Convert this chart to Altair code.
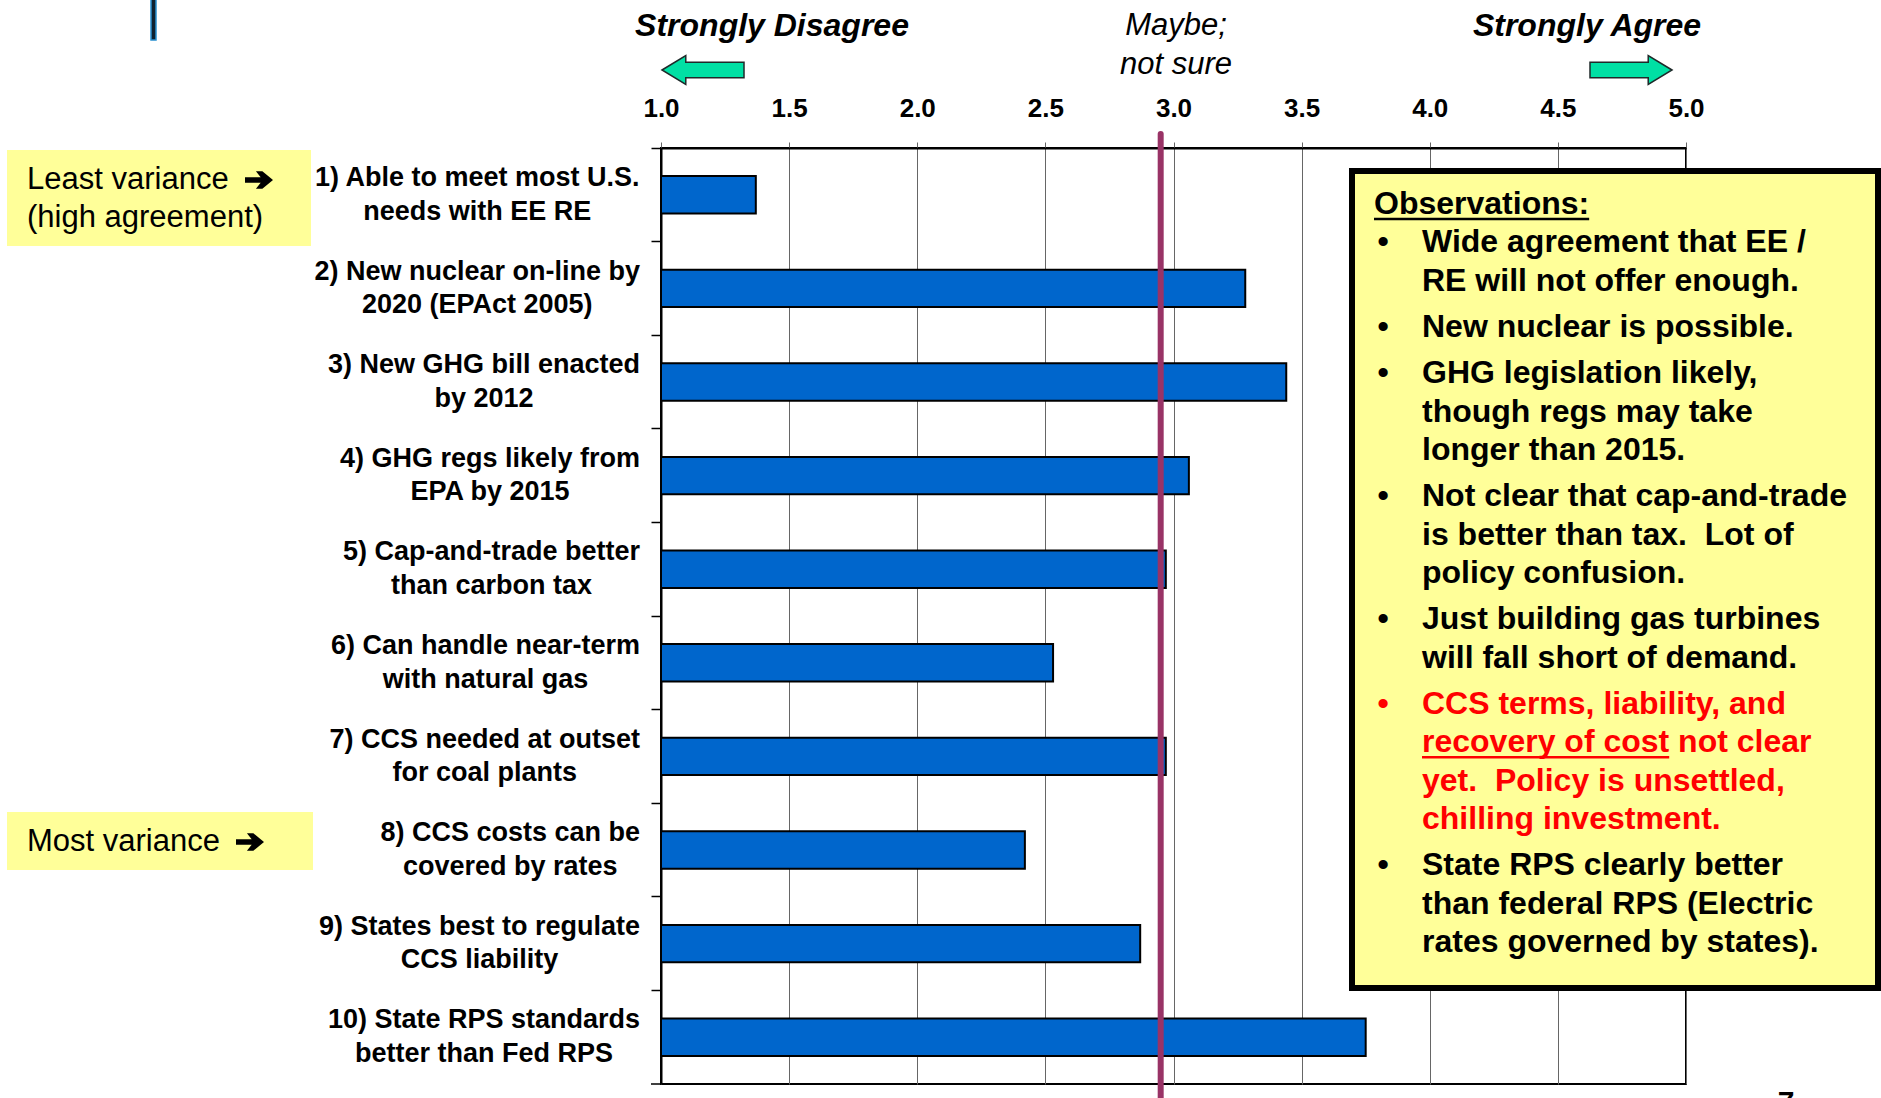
import altair as alt
import pandas as pd

FONT = "Liberation Sans, Arial, Helvetica, sans-serif"

# ---------------------------------------------------------------- data
statement_first_lines = [
    "1) Able to meet most U.S.",
    "2) New nuclear on-line by",
    "3) New GHG bill enacted",
    "4) GHG regs likely from",
    "5) Cap-and-trade better",
    "6) Can handle near-term",
    "7) CCS needed at outset",
    "8) CCS costs can be",
    "9) States best to regulate",
    "10) State RPS standards",
]
statement_second_lines = [
    "needs with EE RE",
    "2020 (EPAct 2005)",
    "by 2012",
    "EPA by 2015",
    "than carbon tax",
    "with natural gas",
    "for coal plants",
    "covered by rates",
    "CCS liability",
    "better than Fed RPS",
]
mean_scores = [1.37, 3.28, 3.44, 3.06, 2.97, 2.53, 2.97, 2.42, 2.87, 3.75]
overall_mean = [2.95]
scale_ticks = [1.0, 1.5, 2.0, 2.5, 3.0, 3.5, 4.0, 4.5, 5.0]
scale_ends = ["Strongly Disagree", "Strongly Agree"]
scale_middle = ["Maybe;", "not sure"]
variance_notes = ["Least variance", "(high agreement)", "Most variance"]
observations_title = "Observations:"
observation_bullets = [
    ["Wide agreement that EE /", "RE will not offer enough."],
    ["New nuclear is possible."],
    ["GHG legislation likely,", "though regs may take", "longer than 2015."],
    ["Not clear that cap-and-trade", "is better than tax.\u00a0 Lot of", "policy confusion."],
    ["Just building gas turbines", "will fall short of demand."],
    ["CCS terms, liability, and", "recovery of cost not clear",
     "yet.\u00a0 Policy is unsettled,", "chilling investment."],
    ["State RPS clearly better", "than federal RPS (Electric", "rates governed by states)."],
]
highlighted_bullet = 5
underlined_phrase = "recovery of cost"
page_number = "7"

# ---------------------------------------------------------------- layout
W, H = 1025, 936
PAD = {"left": 661, "top": 148, "right": 195, "bottom": 14}
LABEL_SIZE = 27
LABEL_LINE = 33.6
LABEL_GAP = 21
OBS_SIZE = 32

# advance widths of a bold sans (per 1000 em), used to centre two-line labels
_BOLD = {" ": 278, "(": 333, ")": 333, ".": 278, ",": 278, "-": 333, "/": 278,
         ":": 333, ";": 333}
_BOLD.update({d: 556 for d in "0123456789"})
_BOLD.update(dict(zip("ABCDEFGHIJKLMNOPQRSTUVWXYZ",
                      [722, 722, 722, 722, 667, 611, 778, 722, 278, 556, 722, 611, 833,
                       722, 778, 667, 778, 722, 667, 611, 722, 667, 944, 667, 667, 611])))
_BOLD.update(dict(zip("abcdefghijklmnopqrstuvwxyz",
                      [556, 611, 556, 611, 556, 333, 611, 611, 278, 278, 556, 278, 889,
                       611, 611, 611, 611, 389, 556, 333, 611, 556, 778, 556, 556, 500])))


def bold_width(s, size):
    return sum(_BOLD.get(c, 556) for c in s) * size / 1000.0


def to_score(px):
    return 1.0 + px * 4.0 / W


labels = [f"{a}\n{b}" for a, b in zip(statement_first_lines, statement_second_lines)]
table = pd.DataFrame({
    "statement": labels,
    "score": mean_scores,
    "label_x": [to_score(-LABEL_GAP - bold_width(a, LABEL_SIZE) / 2)
                for a in statement_first_lines],
})

y_enc = alt.Y(
    "statement:N", sort=labels, title=None,
    scale=alt.Scale(padding=0),
    axis=alt.Axis(labels=False, grid=False, domainColor="black", domainWidth=2,
                  tickColor="black", tickSize=10, tickWidth=1.5, bandPosition=0),
)
x_scale = alt.Scale(domain=[1, 5], nice=False, zero=False)

bars = alt.Chart(table).mark_bar(
    height={"band": 0.4}, fill="#0066CC", stroke="black", strokeWidth=2
).encode(
    y=y_enc,
    x=alt.X("score:Q", scale=x_scale, title=None,
            axis=alt.Axis(orient="top", values=scale_ticks, format=".1f", grid=True,
                          gridColor="#666666", gridWidth=1, domainColor="black",
                          domainWidth=2, tickColor="#666666", tickSize=6,
                          labelFont=FONT, labelFontSize=26, labelFontWeight="bold",
                          labelColor="black", labelPadding=21, labelFlush=False)),
    x2=alt.datum(1),
)

# two-line statement labels, centred on the band
statement_text = alt.Chart(table).mark_text(
    align="center", baseline="middle", lineBreak="\n", lineHeight=LABEL_LINE,
    dy=-LABEL_LINE / 2, font=FONT, fontSize=LABEL_SIZE, fontWeight="bold", color="black",
).encode(
    y=alt.Y("statement:N", sort=labels, title=None),
    x=alt.X("label_x:Q", scale=x_scale, title=None),
    text="statement:N",
)

mean_line = alt.Chart(pd.DataFrame({"m": overall_mean})).mark_rule(
    color="#993366", strokeWidth=6, strokeCap="round"
).encode(x=alt.X("m:Q", scale=x_scale, title=None), y=alt.value(-14), y2=alt.value(H + 30))

main = alt.layer(bars, statement_text, mean_line)

# ---------------------------------------------------------------- annotations (pixel space)
def pix(df):
    return alt.Chart(df)


def xy():
    return dict(x=alt.X("px:Q", scale=None, axis=None),
                y=alt.Y("py:Q", scale=None, axis=None))


def rects(df, **mark):
    return pix(df).mark_rect(**mark).encode(
        x=alt.X("x:Q", scale=None, axis=None), x2="x2:Q",
        y=alt.Y("y:Q", scale=None, axis=None), y2="y2:Q")


def rules(df, **mark):
    return pix(df).mark_rule(**mark).encode(
        x=alt.X("x:Q", scale=None, axis=None), x2="x2:Q",
        y=alt.Y("y:Q", scale=None, axis=None))


note_boxes = rects(pd.DataFrame({"x": [-654, -654], "x2": [-350, -348],
                                 "y": [2, 664], "y2": [98, 722]}),
                   fill="#FFFF99", stroke=None)
note_text = pix(pd.DataFrame({"txt": variance_notes, "px": [-634, -634, -634],
                              "py": [32, 70, 694]})).mark_text(
    align="left", baseline="middle", font=FONT, fontSize=31, color="black"
).encode(text="txt:N", **xy())

# heavy black pointer arrows after the variance notes
HEAVY_ARROW = ("M -1 -0.2 L 0.12 -0.2 L -0.22 -0.62 L 0.24 -0.62 L 1 0 "
               "L 0.24 0.62 L -0.22 0.62 L 0.12 0.2 L -1 0.2 Z")
note_arrows = pix(pd.DataFrame({"px": [-402, -411], "py": [32, 694]})).mark_point(
    shape=HEAVY_ARROW, size=28 * 28, filled=True, fill="black", stroke=None, opacity=1
).encode(**xy())

corner_bar = rects(pd.DataFrame({"x": [-510], "x2": [-505], "y": [-150], "y2": [-108]}),
                   fill="#10212e", stroke="#2a90d0", strokeWidth=1.5)

ends_text = pix(pd.DataFrame({"txt": scale_ends, "px": [111, 926], "py": [-122, -122]})).mark_text(
    align="center", baseline="middle", font=FONT, fontSize=32, fontWeight="bold",
    fontStyle="italic", color="black"
).encode(text="txt:N", **xy())
middle_text = pix(pd.DataFrame({"txt": scale_middle, "px": [515, 515], "py": [-122, -83]})).mark_text(
    align="center", baseline="middle", font=FONT, fontSize=31, fontStyle="italic", color="black"
).encode(text="txt:N", **xy())

LEFT_ARROW = "M -1 0 L -0.42 -0.354 L -0.42 -0.19 L 1 -0.19 L 1 0.19 L -0.42 0.19 L -0.42 0.354 Z"
RIGHT_ARROW = "M 1 0 L 0.42 -0.354 L 0.42 -0.19 L -1 -0.19 L -1 0.19 L 0.42 0.19 L 0.42 0.354 Z"
arrow_style = dict(size=82 * 82, filled=True, fill="#00E0A4", stroke="#1f2a2a",
                   strokeWidth=1.5, opacity=1)
left_arrow = pix(pd.DataFrame({"px": [42], "py": [-78]})).mark_point(
    shape=LEFT_ARROW, **arrow_style).encode(**xy())
right_arrow = pix(pd.DataFrame({"px": [970], "py": [-78]})).mark_point(
    shape=RIGHT_ARROW, **arrow_style).encode(**xy())

bottom_tick = rules(pd.DataFrame({"x": [-10], "x2": [0], "y": [H]}),
                    color="black", strokeWidth=1.5)

# observations panel
OBS_LEFT, OBS_TEXT_X, OBS_BULLET_X = 713, 761, 722
OBS_Y0, OBS_LINE, OBS_GAP = 94.4, 38.4, 7.8
obs_box = rects(pd.DataFrame({"x": [691], "x2": [1217], "y": [23], "y2": [840]}),
                fill="#FFFF99", stroke="black", strokeWidth=6)

line_rows, bullet_rows, underline_rows = [], [], []
line_no = 0
for b, lines in enumerate(observation_bullets):
    colour = "#FF0000" if b == highlighted_bullet else "black"
    first_y = OBS_Y0 + line_no * OBS_LINE + b * OBS_GAP
    bullet_rows.append({"txt": "\u2022", "px": OBS_BULLET_X, "py": first_y, "col": colour})
    for line in lines:
        py = OBS_Y0 + line_no * OBS_LINE + b * OBS_GAP
        line_rows.append({"txt": line, "px": OBS_TEXT_X, "py": py, "col": colour})
        if line.startswith(underlined_phrase):
            underline_rows.append({"x": OBS_TEXT_X,
                                   "x2": OBS_TEXT_X + bold_width(underlined_phrase, OBS_SIZE),
                                   "y": py + 15, "col": colour})
        line_no += 1
line_rows.append({"txt": observations_title, "px": OBS_LEFT, "py": 56, "col": "black"})
underline_rows.append({"x": OBS_LEFT, "x2": OBS_LEFT + bold_width(observations_title, OBS_SIZE),
                       "y": 71, "col": "black"})

obs_text = pix(pd.DataFrame(line_rows)).mark_text(
    align="left", baseline="middle", font=FONT, fontSize=OBS_SIZE, fontWeight="bold"
).encode(text="txt:N", color=alt.Color("col:N", scale=None), **xy())
obs_bullets = pix(pd.DataFrame(bullet_rows)).mark_text(
    align="center", baseline="middle", font=FONT, fontSize=OBS_SIZE, fontWeight="bold"
).encode(text="txt:N", color=alt.Color("col:N", scale=None), **xy())
obs_underlines = pix(pd.DataFrame(underline_rows)).mark_rule(strokeWidth=2.5).encode(
    x=alt.X("x:Q", scale=None, axis=None), x2="x2:Q",
    y=alt.Y("y:Q", scale=None, axis=None), color=alt.Color("col:N", scale=None))

page_text = pix(pd.DataFrame({"txt": [page_number], "px": [1125], "py": [964]})).mark_text(
    align="center", baseline="alphabetic", font=FONT, fontSize=30, fontWeight="bold",
    color="black"
).encode(text="txt:N", **xy())

annotations = alt.layer(
    note_boxes, note_text, note_arrows, corner_bar, ends_text, middle_text, left_arrow,
    right_arrow, bottom_tick, obs_box, obs_underlines, obs_bullets, obs_text, page_text,
)

chart = alt.layer(main, annotations).resolve_scale(
    x="independent", y="independent"
).properties(
    width=W, height=H, padding=PAD, background="white",
    autosize=alt.AutoSizeParams(type="none"),
).configure_view(stroke="black", strokeWidth=2)

chart.save("out.html", embed_options={"renderer": "svg", "actions": False})
